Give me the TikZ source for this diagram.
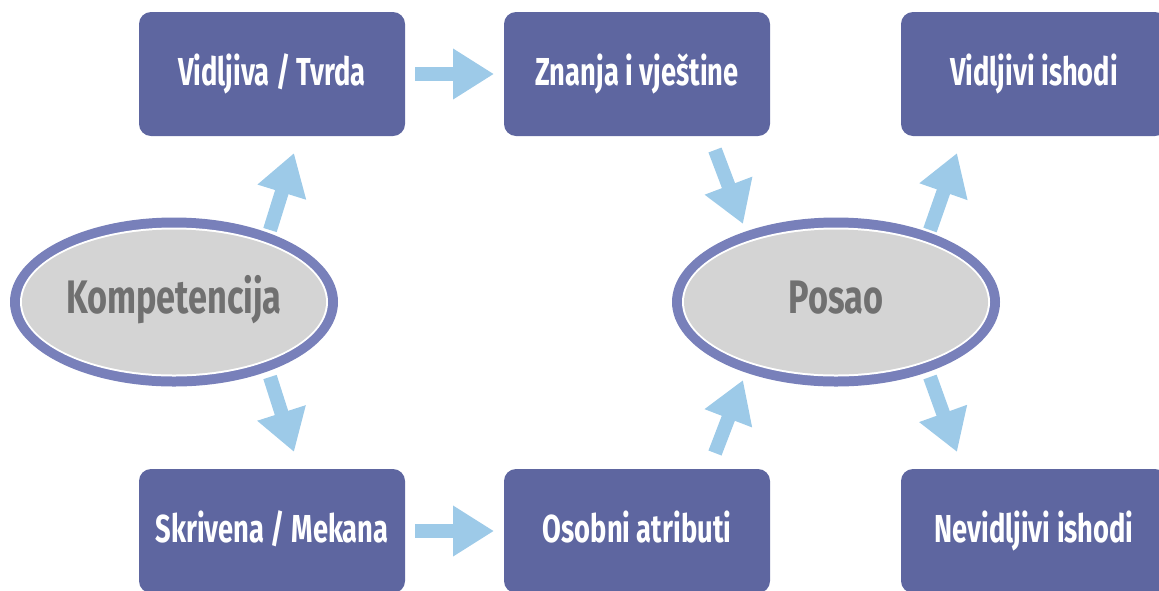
\documentclass[tikz,border=0pt]{standalone}
\usepackage{fontspec}
\newfontfamily\diafont[FakeStretch=0.70]{Fira Sans}
\newfontfamily\ellfont[FakeStretch=0.73]{Fira Sans}
\usetikzlibrary{arrows.meta,shapes.geometric}
\definecolor{boxblue}{HTML}{5E66A0}
\definecolor{ringblue}{HTML}{7880BA}
\definecolor{ellgray}{HTML}{D4D4D4}
\definecolor{txtgray}{HTML}{707070}
\definecolor{arrowblue}{HTML}{9DCAE8}
\begin{document}
\begin{tikzpicture}[x=0.5pt,y=-0.5pt,
  stepbox/.style={fill=boxblue, rounded corners=6pt, minimum width=133pt, minimum height=62pt,
    inner sep=0pt, text=white, text height=16.4pt, text depth=5pt,
    font=\diafont\bfseries\fontsize{19.5}{22}\selectfont},
  ringell/.style={ellipse, fill=ringblue, minimum width=164pt, minimum height=84.5pt, inner sep=0pt},
  whiteell/.style={ellipse, fill=white, minimum width=154pt, minimum height=74.5pt, inner sep=0pt},
  grayell/.style={ellipse, fill=ellgray, minimum width=152pt, minimum height=72.5pt, inner sep=0pt},
  elltext/.style={text=txtgray, inner sep=0pt, text height=19.5pt, text depth=7.8pt,
    font=\ellfont\bfseries\fontsize{23.5}{28}\selectfont},
  flow/.style={draw=arrowblue, line width=7pt, -{Triangle[width=24pt,length=20.5pt]}},
]
\useasboundingbox (0,0) rectangle (1159,590);
\clip (0,0) rectangle (1159,590);

% boxes
\node[stepbox] (vt) at (272,74) {Vidljiva / Tvrda};
\node[stepbox] (zv) at (637,74) {Znanja i vještine};
\node[stepbox] (vi) at (1034,74) {Vidljivi ishodi};
\node[stepbox] (sm) at (272,531) {Skrivena / Mekana};
\node[stepbox] (oa) at (637,531) {Osobni atributi};
\node[stepbox] (ni) at (1034,531) {Nevidljivi ishodi};

% ellipses
\node[ringell] (kring) at (174,302) {};
\node[whiteell] at (kring) {};
\node[grayell] at (kring) {};
\node[elltext] (komp) at (kring) {Kompetencija};

\node[ringell] (pring) at (836,302) {};
\node[whiteell] at (pring) {};
\node[grayell] at (pring) {};
\node[elltext] (posao) at (pring) {Posao};

% arrow end points
\coordinate (a1s) at (415,74);  \coordinate (a1e) at (494,74);
\coordinate (a2s) at (415,531); \coordinate (a2e) at (494,531);
\coordinate (a3s) at (270,230); \coordinate (a3e) at (294,153);
\coordinate (a4s) at (270,377); \coordinate (a4e) at (294,452);
\coordinate (a5s) at (715,150); \coordinate (a5e) at (743,224);
\coordinate (a6s) at (715,453); \coordinate (a6e) at (743,380);
\coordinate (a7s) at (930,230); \coordinate (a7e) at (957,153);
\coordinate (a8s) at (930,377); \coordinate (a8e) at (957,452);

\draw[flow] (a1s) -- (a1e);
\draw[flow] (a2s) -- (a2e);
\draw[flow] (a3s) -- (a3e);
\draw[flow] (a4s) -- (a4e);
\draw[flow] (a5s) -- (a5e);
\draw[flow] (a6s) -- (a6e);
\draw[flow] (a7s) -- (a7e);
\draw[flow] (a8s) -- (a8e);
\end{tikzpicture}
\end{document}
